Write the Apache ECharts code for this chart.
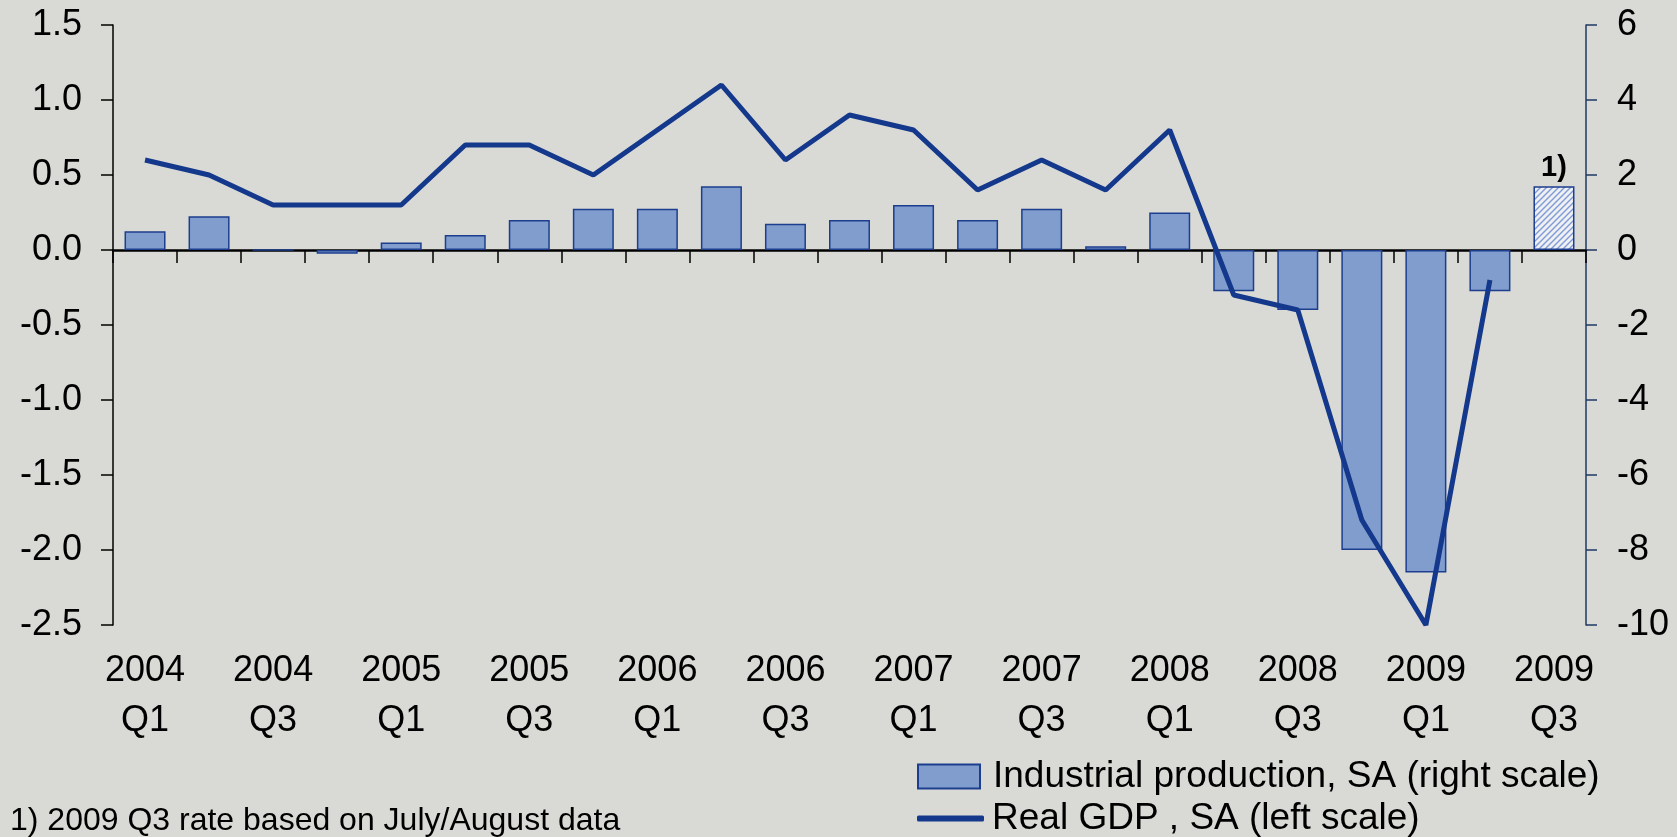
<!DOCTYPE html>
<html>
<head>
<meta charset="utf-8">
<script src="https://cdn.jsdelivr.net/npm/echarts@6/dist/echarts.min.js"></script>
<style>
  html, body { margin: 0; padding: 0; background: #d9dad5; }
  #chart { width: 1677px; height: 837px; }
</style>
</head>
<body>
<div id="chart"></div>
<script>
var quarters = [
  '2004\nQ1', '2004\nQ2', '2004\nQ3', '2004\nQ4',
  '2005\nQ1', '2005\nQ2', '2005\nQ3', '2005\nQ4',
  '2006\nQ1', '2006\nQ2', '2006\nQ3', '2006\nQ4',
  '2007\nQ1', '2007\nQ2', '2007\nQ3', '2007\nQ4',
  '2008\nQ1', '2008\nQ2', '2008\nQ3', '2008\nQ4',
  '2009\nQ1', '2009\nQ2', '2009\nQ3'
];
// industrial production, right scale
var industrial = [0.5, 0.9, 0, -0.1, 0.2, 0.4, 0.8, 1.1, 1.1, 1.7, 0.7, 0.8,
  1.2, 0.8, 1.1, 0.1, 1.0, -1.1, -1.6, -8.0, -8.6, -1.1, 1.7];
// real GDP, left scale
var gdp = [0.6, 0.5, 0.3, 0.3, 0.3, 0.7, 0.7, 0.5, 0.8, 1.1, 0.6, 0.9,
  0.8, 0.4, 0.6, 0.4, 0.8, -0.3, -0.4, -1.8, -2.5, -0.2, null];
var estimateIndex = 22; // 2009 Q3, based on July/August data

var barName = 'Industrial production, SA (right scale)';
var lineName = 'Real GDP , SA (left scale)';
var fontFamily = 'Liberation Sans, Arial, sans-serif';

function hatch() {
  var c = document.createElement('canvas');
  c.width = 6;
  c.height = 6;
  var ctx = c.getContext('2d');
  ctx.fillStyle = '#eef0f4';
  ctx.fillRect(0, 0, 6, 6);
  ctx.strokeStyle = '#7f9bd6';
  ctx.lineWidth = 1.4;
  ctx.beginPath();
  ctx.moveTo(-1, 7); ctx.lineTo(7, -1);
  ctx.moveTo(-1, 1); ctx.lineTo(1, -1);
  ctx.moveTo(5, 7); ctx.lineTo(7, 5);
  ctx.stroke();
  return c;
}

var barData = industrial.map(function(v, i) {
  if (i === estimateIndex) {
    return {
      value: v,
      itemStyle: { color: { image: hatch(), repeat: 'repeat' } },
      label: {
        show: true,
        position: 'top',
        formatter: '1)',
        fontSize: 29,
        fontWeight: 'bold',
        color: '#000',
        fontFamily: fontFamily,
        distance: 4
      }
    };
  }
  return v;
});

var chart = echarts.init(document.getElementById('chart'));
chart.setOption({
  animation: false,
  backgroundColor: '#d9dad5',
  textStyle: { fontFamily: fontFamily },
  grid: { left: 113, top: 25, width: 1473, height: 600 },
  legend: [{
    data: [barName],
    orient: 'vertical',
    left: 917,
    top: 758,
    padding: 0,
    itemWidth: 62,
    itemHeight: 24,
    icon: 'rect',
    textStyle: { fontSize: 37, color: '#000', padding: [0, 0, 0, 8] }
  }, {
    data: [{ name: lineName, icon: 'roundRect' }],
    orient: 'vertical',
    left: 917,
    top: 800,
    padding: 0,
    itemWidth: 67,
    itemHeight: 6,
    textStyle: { fontSize: 37, color: '#000', padding: [0, 0, 0, 3] }
  }],
  xAxis: [{
    type: 'category',
    data: quarters,
    position: 'bottom',
    axisLine: { show: false, onZero: false },
    axisTick: { show: false },
    axisLabel: {
      interval: 1,
      fontSize: 36,
      lineHeight: 50,
      color: '#000',
      margin: 21
    }
  }, {
    type: 'category',
    data: quarters,
    position: 'bottom',
    axisLine: { show: true, onZero: true, lineStyle: { color: '#000', width: 2.5 } },
    axisTick: { show: true, interval: 0, length: 13, lineStyle: { color: '#000', width: 1.5 } },
    axisLabel: { show: false }
  }],
  yAxis: [{
    type: 'value',
    min: -2.5,
    max: 1.5,
    interval: 0.5,
    axisLine: { show: true, lineStyle: { color: '#000', width: 1.5 } },
    axisTick: { show: true, length: 12, lineStyle: { color: '#000', width: 1.5 } },
    splitLine: { show: false },
    axisLabel: {
      fontSize: 36,
      color: '#000',
      margin: 31,
      formatter: function(v) { return v.toFixed(1); }
    }
  }, {
    type: 'value',
    position: 'right',
    min: -10,
    max: 6,
    interval: 2,
    axisLine: { show: true, lineStyle: { color: '#1f3864', width: 1.5 } },
    axisTick: { show: true, length: 11, lineStyle: { color: '#1f3864', width: 1.5 } },
    splitLine: { show: false },
    axisLabel: { fontSize: 36, color: '#000', margin: 31 }
  }],
  series: [{
    name: barName,
    type: 'bar',
    xAxisIndex: 0,
    yAxisIndex: 1,
    barWidth: 41,
    data: barData,
    itemStyle: { color: '#809dcd', borderColor: '#1d3e8e', borderWidth: 1.5 }
  }, {
    name: lineName,
    type: 'line',
    xAxisIndex: 0,
    yAxisIndex: 0,
    data: gdp,
    symbol: 'none',
    lineStyle: { color: '#14388b', width: 5 },
    itemStyle: { color: '#14388b' }
  }],
  graphic: [{
    type: 'text',
    left: 10,
    top: 805,
    style: {
      text: '1) 2009 Q3 rate based on July/August data',
      fontSize: 32,
      fontFamily: fontFamily,
      fill: '#000'
    }
  }]
});
</script>
</body>
</html>
